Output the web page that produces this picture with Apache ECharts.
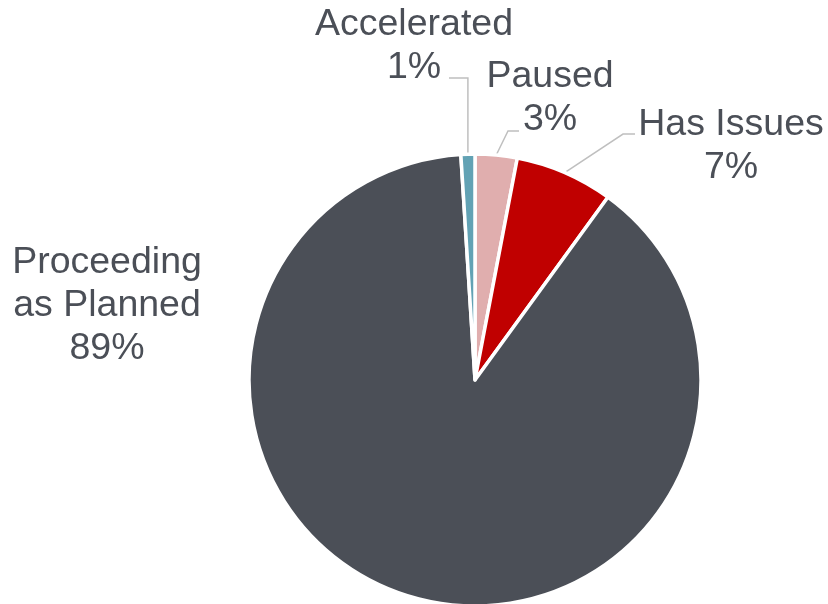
<!DOCTYPE html>
<html>
<head>
<meta charset="utf-8">
<script src="https://cdn.jsdelivr.net/npm/echarts@6/dist/echarts.min.js"></script>
<style>
  html, body { margin: 0; padding: 0; background: #ffffff; }
  #chart { width: 828px; height: 604px; }
</style>
</head>
<body>
<div id="chart"></div>
<script>
// Project status breakdown (share of projects, %)
const categories = ['Paused', 'Has Issues', 'Proceeding\nas Planned', 'Accelerated'];
const shares = [3, 7, 89, 1];
const colors = ['#E0AEAE', '#C00000', '#4B4F57', '#62A2B4'];

const textColor = '#4B4F57';

// Where each label block sits and how its guide line bends
const labelSpots = [
  { x: 550, y: 98,  elbow: [508, 131], end: [519, 131] },
  { x: 731, y: 146, elbow: [623, 134], end: [635, 134] },
  { x: 107, y: 306, elbow: null, end: null },
  { x: 414, y: 46,  elbow: null, end: [449, 78] }
];

const chart = echarts.init(document.getElementById('chart'), null, { renderer: 'canvas' });

chart.setOption({
  animation: false,
  backgroundColor: '#ffffff',
  series: [{
    type: 'pie',
    center: [475, 380],
    radius: 226,
    startAngle: 90,
    clockwise: true,
    avoidLabelOverlap: false,
    data: categories.map((name, i) => ({
      name: name,
      value: shares[i],
      itemStyle: { color: colors[i] },
      labelLine: { show: labelSpots[i].end !== null }
    })),
    itemStyle: { borderColor: '#ffffff', borderWidth: 3.5 },
    label: {
      show: true,
      position: 'outside',
      formatter: p => p.name + '\n' + p.value + '%',
      fontFamily: 'Liberation Sans, Arial, sans-serif',
      fontSize: 37.5,
      lineHeight: 43,
      color: textColor,
      align: 'center'
    },
    labelLine: {
      show: true,
      length: 10,
      length2: 10,
      lineStyle: { color: '#BFBFBF', width: 1.5 }
    },
    labelLayout: function (params) {
      const spot = labelSpots[params.dataIndex];
      const out = { x: spot.x, y: spot.y, align: 'center', verticalAlign: 'middle' };
      if (spot.end && params.labelLinePoints) {
        const p0 = params.labelLinePoints[0];
        const elbow = spot.elbow ? spot.elbow : [p0[0], spot.end[1]];
        out.labelLinePoints = [p0, elbow, spot.end];
      }
      return out;
    }
  }]
});
</script>
</body>
</html>
